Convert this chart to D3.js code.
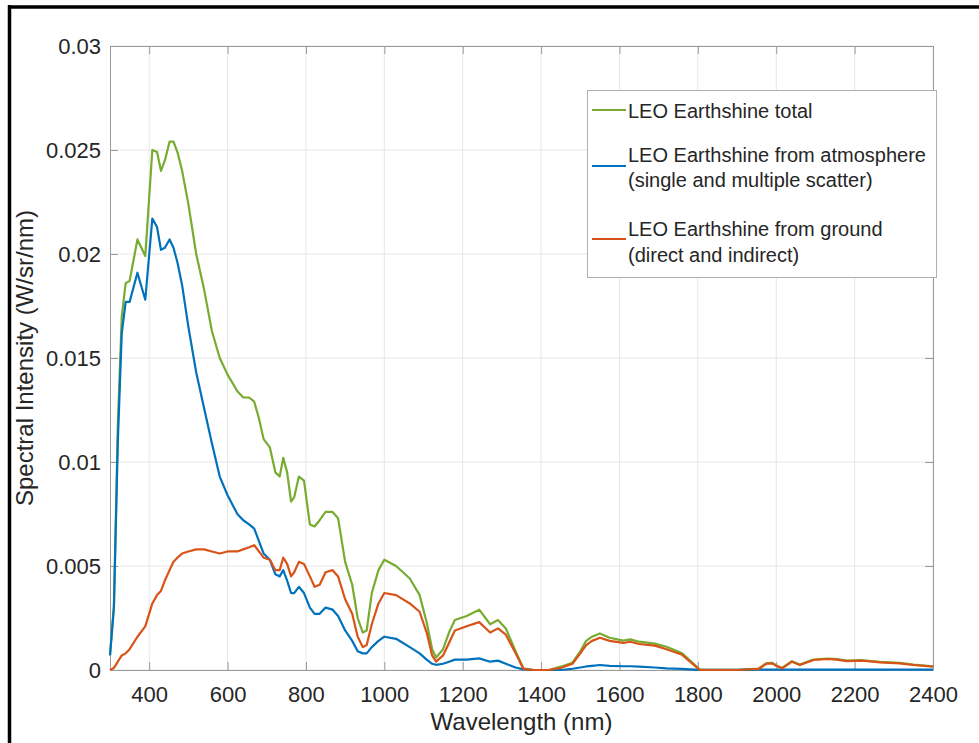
<!DOCTYPE html>
<html lang="en">
<head>
<meta charset="UTF-8">
<title>LEO Earthshine</title>
<style>
  body { margin: 0; background: #fff; }
  svg text { font-family: "Liberation Sans", Arial, sans-serif; fill: #262626; }
</style>
</head>
<body>
<div id="chart"></div>
<script src="https://cdn.jsdelivr.net/npm/d3@7"></script>
<script>
// wavelengths (nm)
const wavelength = [300, 310, 320, 330, 340, 350, 370, 390, 408, 420, 430, 440, 452, 462, 472, 484, 500, 520, 540, 560,
  580, 600, 625, 640, 655, 668, 680, 692, 708, 722, 733, 742, 752, 762, 770, 782, 795, 810, 822, 835,
  850, 868, 882, 900, 918, 932, 945, 955, 968, 985, 1000, 1030, 1065, 1090, 1108, 1122, 1132, 1150, 1165, 1180,
  1210, 1242, 1270, 1290, 1310, 1335, 1355, 1380, 1420, 1450, 1480, 1500, 1515, 1530, 1550, 1575, 1610, 1628, 1650, 1690,
  1720, 1760, 1780, 1805, 1850, 1900, 1955, 1975, 1990, 2000, 2015, 2040, 2060, 2095, 2130, 2155, 2180, 2220, 2265, 2315,
  2350, 2400];

const total = [0.0007, 0.0031, 0.0118, 0.0170, 0.0186, 0.0187, 0.0207, 0.0199, 0.0250, 0.0249, 0.0240, 0.0245, 0.0254, 0.0254, 0.0249, 0.0240, 0.0224, 0.0200, 0.0183, 0.0163,
  0.0150, 0.0142, 0.0134, 0.0131, 0.0131, 0.0129, 0.0121, 0.0111, 0.0107, 0.0095, 0.0093, 0.0102, 0.0095, 0.0081, 0.0083, 0.0093, 0.0091, 0.0070, 0.0069, 0.0072,
  0.0076, 0.0076, 0.0073, 0.0052, 0.0041, 0.0025, 0.0018, 0.0019, 0.0037, 0.0048, 0.0053, 0.0050, 0.0044, 0.0036, 0.0023, 0.0010, 0.0006, 0.0010, 0.0018, 0.0024,
  0.0026, 0.0029, 0.0022, 0.0024, 0.0020, 0.0009, 0.00008, 0, 0, 0.00016, 0.00035, 0.0009, 0.0014, 0.0016, 0.00176, 0.00155, 0.00141, 0.00147, 0.00136, 0.00127,
  0.00112, 0.0008, 0.00045, 0.00002, 0.00001, 0.00001, 0.00007, 0.00033, 0.00034, 0.00022, 0.0001, 0.00042, 0.00026, 0.0005, 0.00055, 0.00052, 0.00045, 0.00047, 0.00039, 0.00034,
  0.00026, 0.00018];

const atmosphere = [0.0007, 0.0030, 0.0110, 0.0162, 0.0177, 0.0177, 0.0191, 0.0178, 0.0217, 0.0213, 0.0202, 0.0203, 0.0207, 0.0203, 0.0196, 0.0185, 0.0165, 0.0143, 0.0126, 0.0109,
  0.0093, 0.0084, 0.0075, 0.0072, 0.0070, 0.0068, 0.0062, 0.0056, 0.0053, 0.0046, 0.0045, 0.0048, 0.0043, 0.0037, 0.0037, 0.0040, 0.0037, 0.0030, 0.0027, 0.0027,
  0.0030, 0.0029, 0.0026, 0.0019, 0.0014, 0.0009, 0.0008, 0.0008, 0.0011, 0.0014, 0.0016, 0.0015, 0.0011, 0.0008, 0.0005, 0.0003, 0.00025, 0.0003, 0.0004, 0.0005,
  0.0005, 0.00056, 0.0004, 0.00045, 0.0003, 0.00012, 0.00003, 0, 0, 0, 0.00006, 0.00012, 0.00017, 0.0002, 0.00024, 0.0002, 0.00018, 0.00018, 0.00016, 0.00012,
  0.00008, 0.00005, 0.00003, 0.00001, 0.00001, 0.00001, 0.00002, 0.00002, 0.00002, 0.00002, 0.00002, 0.00002, 0.00002, 0.00002, 0.00002, 0.00002, 0.00002, 0.00002, 0.00002, 0.00002,
  0.00002, 0.00002];

const ground = [0, 0.0001, 0.0004, 0.0007, 0.0008, 0.0010, 0.0016, 0.0021, 0.0032, 0.0036, 0.0038, 0.0043, 0.0048, 0.0052, 0.0054, 0.0056, 0.0057, 0.0058, 0.0058, 0.0057,
  0.0056, 0.0057, 0.0057, 0.0058, 0.0059, 0.0060, 0.0057, 0.0054, 0.0053, 0.0048, 0.0048, 0.0054, 0.0051, 0.0045, 0.0047, 0.0052, 0.0051, 0.0045, 0.0040, 0.0041,
  0.0047, 0.0048, 0.0045, 0.0034, 0.0027, 0.0016, 0.0011, 0.0012, 0.0022, 0.0032, 0.0037, 0.0036, 0.0032, 0.0028, 0.0018, 0.0007, 0.0004, 0.0007, 0.0013, 0.0019,
  0.0021, 0.0023, 0.0018, 0.0020, 0.0017, 0.0008, 0.00005, 0, 0, 0.0001, 0.0003, 0.0008, 0.0012, 0.0014, 0.00155, 0.0014, 0.0013, 0.00136, 0.00125, 0.00117,
  0.0010, 0.00073, 0.0004, 0, 0, 0, 0.00005, 0.0003, 0.00032, 0.0002, 0.00008, 0.0004, 0.00024, 0.00048, 0.00053, 0.0005, 0.00043, 0.00045, 0.00037, 0.00032,
  0.00024, 0.00016];

const seriesNames = ["LEO Earthshine total",
  ["LEO Earthshine from atmosphere", "(single and multiple scatter)"],
  ["LEO Earthshine from ground", "(direct and indirect)"]];
const seriesColors = ["#77AC30", "#0072BD", "#D95319"];
const xTicks = [400, 600, 800, 1000, 1200, 1400, 1600, 1800, 2000, 2200, 2400];
const yTicks = [0, 0.005, 0.01, 0.015, 0.02, 0.025, 0.03];
const yTickLabels = ["0", "0.005", "0.01", "0.015", "0.02", "0.025", "0.03"];

const W = 979, H = 743;
const margin = { left: 110, right: 46, top: 46, bottom: 73 };

const svg = d3.select("#chart").append("svg")
  .attr("width", W).attr("height", H);

// black frame around the figure (only top and left visible)
svg.append("line").attr("x1", 8).attr("x2", W).attr("y1", 7).attr("y2", 7)
  .attr("stroke", "#000").attr("stroke-width", 3.5);
svg.append("line").attr("x1", 9.5).attr("x2", 9.5).attr("y1", 5).attr("y2", H)
  .attr("stroke", "#000").attr("stroke-width", 3.5);

const x = d3.scaleLinear().domain([300, 2400]).range([margin.left, W - margin.right]);
const y = d3.scaleLinear().domain([0, 0.03]).range([H - margin.bottom, margin.top]);

const x0 = x.range()[0], x1 = x.range()[1], y0 = y.range()[0], y1 = y.range()[1];

// grid
const grid = svg.append("g");
grid.selectAll(".gx").data(xTicks).enter().append("line")
  .attr("x1", d => x(d)).attr("x2", d => x(d)).attr("y1", y0).attr("y2", y1)
  .attr("stroke", "#e6e6e6").attr("stroke-width", 1);
grid.selectAll(".gy").data(yTicks).enter().append("line")
  .attr("x1", x0).attr("x2", x1).attr("y1", d => y(d)).attr("y2", d => y(d))
  .attr("stroke", "#e6e6e6").attr("stroke-width", 1);

// axes, MATLAB style: ticks inside, box on
const axisColor = "#9a9a9a";
const xAxis = svg.append("g").attr("transform", `translate(0,${y0})`)
  .call(d3.axisBottom(x).tickValues(xTicks).tickSizeInner(-8).tickSizeOuter(0).tickPadding(16).tickFormat(d3.format("d")));
const yAxis = svg.append("g").attr("transform", `translate(${x0},0)`)
  .call(d3.axisLeft(y).tickValues(yTicks).tickSizeInner(-8).tickSizeOuter(0).tickPadding(9).tickFormat((d, i) => yTickLabels[i]));
const xTop = svg.append("g").attr("transform", `translate(0,${y1})`)
  .call(d3.axisTop(x).tickValues(xTicks).tickSizeInner(-8).tickSizeOuter(0).tickFormat(""));
const yRight = svg.append("g").attr("transform", `translate(${x1},0)`)
  .call(d3.axisRight(y).tickValues(yTicks).tickSizeInner(-8).tickSizeOuter(0).tickFormat(""));

[xAxis, yAxis, xTop, yRight].forEach(g => {
  g.select(".domain").attr("stroke", axisColor);
  g.selectAll(".tick line").attr("stroke", axisColor);
  g.selectAll(".tick text").attr("font-size", 22).attr("fill", "#262626")
    .attr("font-family", "'Liberation Sans', Arial, sans-serif");
});

// axis labels
svg.append("text").attr("x", (x0 + x1) / 2).attr("y", 730)
  .attr("text-anchor", "middle").attr("font-size", 24).text("Wavelength (nm)");
svg.append("text").attr("transform", `translate(33,${(y0 + y1) / 2}) rotate(-90)`)
  .attr("text-anchor", "middle").attr("font-size", 24).text("Spectral Intensity (W/sr/nm)");

// curves
const allSeries = [total, atmosphere, ground];
const line = d3.line().x(d => x(d[0])).y(d => y(d[1]));
allSeries.forEach((vals, i) => {
  svg.append("path")
    .datum(wavelength.map((w, j) => [w, vals[j]]))
    .attr("d", line)
    .attr("fill", "none")
    .attr("stroke", seriesColors[i])
    .attr("stroke-width", 2.2)
    .attr("stroke-linejoin", "round");
});

// legend
const lg = svg.append("g");
lg.append("rect").attr("x", 587.5).attr("y", 90.5).attr("width", 349).attr("height", 187)
  .attr("fill", "#fff").attr("stroke", "#b0b0b0").attr("stroke-width", 1);
const rows = [
  { ly: 110, lines: [118] },
  { ly: 166, lines: [162, 187] },
  { ly: 239, lines: [236, 262] }
];
rows.forEach((r, i) => {
  lg.append("line").attr("x1", 592).attr("x2", 626).attr("y1", r.ly).attr("y2", r.ly)
    .attr("stroke", seriesColors[i]).attr("stroke-width", 2.2);
  const names = Array.isArray(seriesNames[i]) ? seriesNames[i] : [seriesNames[i]];
  names.forEach((t, k) => {
    lg.append("text").attr("x", 628).attr("y", r.lines[k]).attr("font-size", 20).text(t);
  });
});
</script>
</body>
</html>
